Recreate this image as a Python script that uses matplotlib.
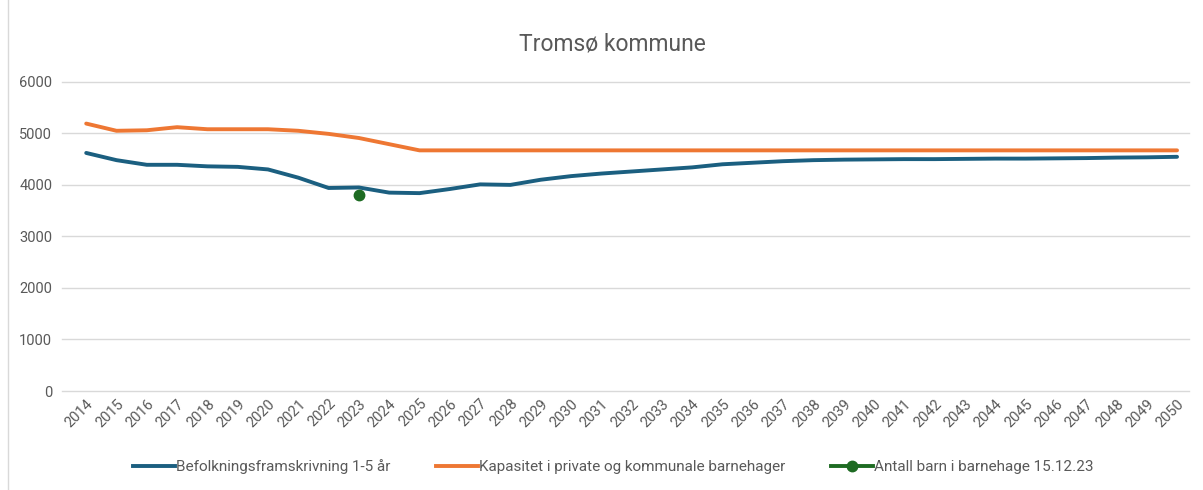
import matplotlib
matplotlib.use("Agg")
import matplotlib.pyplot as plt
from matplotlib.lines import Line2D

"""
Data
"""
years = list(range(2014, 2051))
befolkning = [4620, 4480, 4390, 4390, 4360, 4350, 4300, 4140, 3940, 3950,
              3850, 3840, 3920, 4010, 4000, 4100, 4170, 4220, 4260, 4300,
              4340, 4400, 4430, 4460, 4480, 4490, 4495, 4500, 4500, 4505,
              4510, 4510, 4515, 4520, 4530, 4535, 4545]
kapasitet = [5190, 5050, 5060, 5120, 5080, 5080, 5080, 5050, 4990, 4910,
             4790, 4670] + [4670] * 25
barn_year = [2023]
barn_value = [3810]

blue = "#1b5f80"
orange = "#ee7733"
green = "#1e6b23"
grey = "#595959"

plt.rcParams['font.family'] = ['Roboto', 'DejaVu Sans']

fig = plt.figure(figsize=(12.03, 4.9), dpi=100)
ax = fig.add_axes([0.0515, 0.202, 0.937, 0.631])

ax.plot(years, befolkning, color=blue, lw=2.8, solid_capstyle='round')
ax.plot(years, kapasitet, color=orange, lw=2.8, solid_capstyle='round')
ax.plot(barn_year, barn_value, 'o', color=green, ms=7.5)

ax.set_xlim(2013.2, 2050.4)
ax.set_ylim(0, 6000)
ax.set_yticks(range(0, 6001, 1000))
ax.set_xticks(years)
ax.set_xticklabels([str(y) for y in years], rotation=45, ha='right',
                   rotation_mode='anchor', fontsize=10.5, color=grey)
ax.tick_params(axis='y', labelsize=10.5, colors=grey, length=0, pad=7)
ax.tick_params(axis='x', length=0, pad=4)
ax.grid(axis='y', color='#d9d9d9', lw=1)
for gl in ax.get_ygridlines():
    gl.set_clip_on(False)
ax.set_axisbelow(True)
for s in ax.spines.values():
    s.set_visible(False)

fig.text(0.509, 0.91, "Tromsø kommune", ha='center', va='center',
         fontsize=16.5, color=grey)

handles = [Line2D([], [], color=blue, lw=2.8),
           Line2D([], [], color=orange, lw=2.8),
           Line2D([], [], color=green, lw=2.8, marker='o', ms=7.5)]
labels = ["Befolkningsframskrivning 1-5 år",
          "Kapasitet i private og kommunale barnehager",
          "Antall barn i barnehage 15.12.23"]
fig.legend(handles, labels, loc='center', bbox_to_anchor=(0.51, 0.047),
           ncol=3, frameon=False, fontsize=11, labelcolor=grey,
           handlelength=2.7, handletextpad=0.1, columnspacing=3.0)

# faint chart border on the left
fig.add_artist(Line2D([0.007, 0.007], [0, 1], color='#d9d9d9', lw=1,
                      transform=fig.transFigure))

fig.savefig("out.png", dpi=100)
